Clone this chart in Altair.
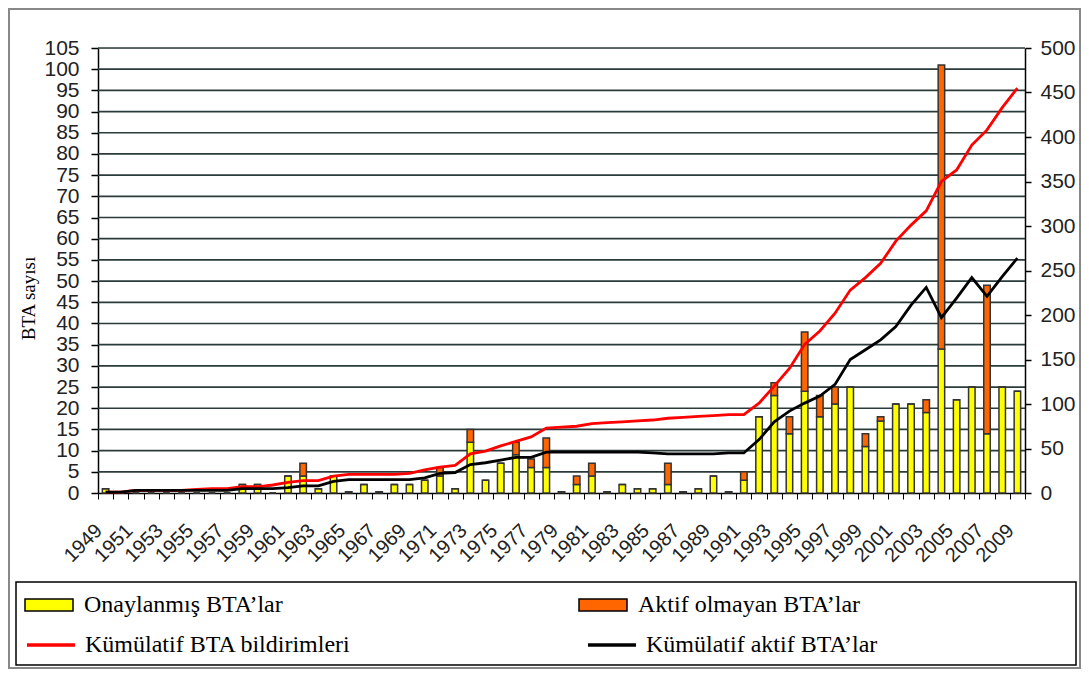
import altair as alt
import pandas as pd

years = list(range(1949, 2010))

approved = [1, 0, 0, 0, 0, 0, 0, 0, 0, 2,
            2, 0, 4, 4, 1, 4, 0.3, 2, 0.3, 2,
            2, 3, 4, 1, 12, 3, 7, 9, 6, 6,
            0.3, 2, 4, 0.3, 2, 1, 1, 2, 0.3, 1,
            4, 0.3, 3, 18, 23, 14, 24, 18, 21, 25,
            11, 17, 21, 21, 19, 34, 22, 25, 14, 25,
            24]

inactive = [0, 0, 0, 0, 0, 0, 0, 0, 0, 0,
            0, 0, 0, 3, 0, 0, 0, 0, 0, 0,
            0, 0, 2, 0, 3, 0, 0, 3, 2, 7,
            0, 2, 3, 0, 0, 0, 0, 5, 0, 0,
            0, 0, 2, 0, 3, 4, 14, 5, 4, 0,
            3, 1, 0, 0, 3, 67, 0, 0, 35, 0,
            0]

cum_notified = [1, 1, 3, 3, 3, 3, 4, 5, 5, 7,
                7, 9, 12, 14, 14, 19, 21, 21, 21, 21,
                22, 26, 29, 31, 44, 47, 53, 58, 63, 73,
                74, 75, 78, 79, 80, 81, 82, 84, 85, 86,
                87, 88, 88, 101, 120, 140, 167, 182, 202, 228,
                242, 258, 283, 301, 317, 350, 363, 391, 408, 433,
                455]

cum_active = [1, 1, 3, 3, 3, 3, 3, 3, 3, 5,
              5, 5, 6, 8, 8, 13, 15, 15, 15, 15,
              15, 17, 22, 23, 32, 34, 37, 40, 40, 46,
              46, 46, 46, 46, 46, 46, 45, 44, 44, 44,
              44, 45, 45, 60, 80, 92, 101, 109, 122, 150,
              161, 172, 187, 211, 231, 197, 219, 242, 221, 243,
              264]

left_ticks = list(range(0, 106, 5))
right_ticks = list(range(0, 501, 50))

bar_labels = ["Onaylanmış BTA’lar", "Aktif olmayan BTA’lar"]
bar_colors = ["#FFFF00", "#FF6600"]
line_labels = ["Kümülatif BTA bildirimleri", "Kümülatif aktif BTA’lar"]
line_colors = ["#FF0000", "#000000"]

n = len(years)
bars_df = pd.DataFrame({
    "year": [str(y) for y in years] * 2,
    "series": [bar_labels[0]] * n + [bar_labels[1]] * n,
    "ord": [0] * n + [1] * n,
    "value": approved + inactive,
})
red_df = pd.DataFrame({"year": [str(y) for y in years], "series": line_labels[0], "value": cum_notified})
blk_df = pd.DataFrame({"year": [str(y) for y in years], "series": line_labels[1], "value": cum_active})
grid_df = pd.DataFrame({"value": left_ticks[1:]})

W, H = 927, 445
SANS = "Liberation Sans"
SERIF = "Liberation Serif"

x_enc = alt.X(
    "year:O",
    sort=None,
    scale=alt.Scale(paddingInner=0, paddingOuter=0),
    axis=alt.Axis(
        title=None, labelAngle=-45, labelFont=SANS, labelFontSize=20, labelColor="#222",
        labelExpr="(toNumber(datum.value) - 1949) % 2 == 0 ? datum.value : ''",
        tickBand="extent", tickSize=6, tickColor="#000", domainColor="#000", domainWidth=1.5,
        labelPadding=21, labelOffset=-14, grid=False, labelOverlap=False,
    ),
)

y_left_scale = alt.Scale(domain=[0, 105], nice=False)
y_left_axis = alt.Axis(
    values=left_ticks, title="BTA sayısı", titleFont=SERIF, titleFontSize=19,
    titleFontWeight="normal", titleColor="#000", titleX=-60, titleY=250,
    labelFont=SANS, labelFontSize=21, labelColor="#222", labelPadding=12,
    tickSize=7, tickColor="#000", tickWidth=1.5, domainColor="#000", domainWidth=1.5,
    grid=False,
)

grid = alt.Chart(grid_df).mark_rule(color="#2b3b3b", strokeWidth=1.7).encode(
    y=alt.Y("value:Q", scale=y_left_scale, axis=y_left_axis)
)

bars = alt.Chart(bars_df).mark_bar(size=6.5, stroke="#333", strokeWidth=1.5).encode(
    x=x_enc,
    y=alt.Y("value:Q", stack="zero", scale=y_left_scale, axis=y_left_axis),
    fill=alt.Fill(
        "series:N",
        scale=alt.Scale(domain=bar_labels, range=bar_colors),
        legend=alt.Legend(
            title=None, orient="none", legendX=-74, legendY=532, direction="horizontal",
            symbolType="M-1,-0.25H1V0.25H-1Z", symbolSize=2304, symbolStrokeColor="#000",
            symbolStrokeWidth=1.5, labelFont=SERIF, labelFontSize=24, labelColor="#000",
            labelOffset=10, columnPadding=293, labelLimit=400,
        ),
    ),
    order=alt.Order("ord:Q", sort="ascending"),
)

y_right = alt.Y(
    "value:Q",
    scale=alt.Scale(domain=[0, 500], nice=False),
    axis=alt.Axis(
        orient="right", values=right_ticks, title=None,
        labelFont=SANS, labelFontSize=21, labelColor="#222", labelPadding=9,
        tickSize=6, tickColor="#000", tickWidth=1.5, domainColor="#000", domainWidth=1.5, grid=False,
    ),
)
stroke_enc = alt.Stroke(
    "series:N",
    scale=alt.Scale(domain=line_labels, range=line_colors),
    legend=alt.Legend(
        title=None, orient="none", legendX=-73, legendY=571, direction="horizontal",
        symbolType="stroke", symbolSize=2304, symbolStrokeWidth=3.5,
        labelFont=SERIF, labelFontSize=24, labelColor="#000",
        labelOffset=8, columnPadding=229, labelLimit=400,
    ),
)

red = alt.Chart(red_df).mark_line(strokeWidth=2.8).encode(x=x_enc, y=y_right, stroke=stroke_enc)
blk = alt.Chart(blk_df).mark_line(strokeWidth=2.8).encode(x=x_enc, y=y_right, stroke=stroke_enc)

frame_df = pd.DataFrame({"k": [0]})
legend_box = alt.Chart(frame_df).mark_rect(fill="#FFFFFF", stroke="#000", strokeWidth=1.5).encode(
    x=alt.value(-82), x2=alt.value(978), y=alt.value(534), y2=alt.value(617)
)
outer_box = alt.Chart(frame_df).mark_rect(filled=False, stroke="#888", strokeWidth=2).encode(
    x=alt.value(-89), x2=alt.value(982), y=alt.value(-39), y2=alt.value(620)
)

chart = alt.layer(
    alt.layer(grid, bars), alt.layer(red, blk), legend_box, outer_box
).resolve_scale(
    y="independent"
).properties(
    width=W, height=H,
    autosize=alt.AutoSizeParams(type="none"),
    padding={"left": 90, "top": 40, "right": 56, "bottom": 176},
).configure_view(
    fill="#CCFFFF", stroke=None
).configure_legend(
    labelFont=SERIF, labelFontSize=24
).configure(background="#FFFFFF")

chart.save("out.html", embed_options={"renderer": "svg", "actions": False})
